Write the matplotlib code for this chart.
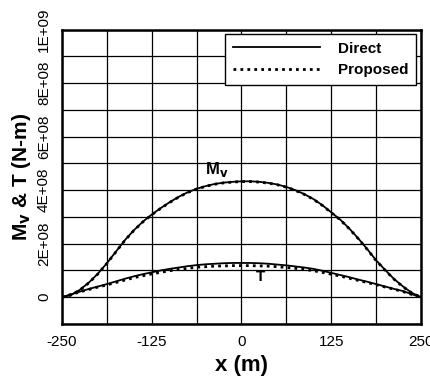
import matplotlib
matplotlib.use("Agg")
import matplotlib.pyplot as plt
import numpy as np

plt.rcParams['font.family'] = ['Liberation Sans', 'DejaVu Sans']

x = [-250, -237.5, -225, -212.5, -200, -187.5, -175, -162.5, -150, -137.5,
     -125, -112.5, -100, -87.5, -75, -62.5, -50, -37.5, -25, -12.5, 0,
     12.5, 25, 37.5, 50, 62.5, 75, 87.5, 100, 112.5, 125,
     137.5, 150, 162.5, 175, 187.5, 200, 212.5, 225, 237.5, 250]
mv_direct = [0, 0.08, 0.28, 0.55, 0.88, 1.27, 1.7, 2.13, 2.5, 2.82,
             3.09, 3.33, 3.55, 3.75, 3.92, 4.05, 4.15, 4.23, 4.28, 4.31, 4.33,
             4.33, 4.31, 4.27, 4.21, 4.12, 4.0, 3.85, 3.67, 3.44, 3.17,
             2.9, 2.57, 2.2, 1.8, 1.38, 1.02, 0.68, 0.4, 0.16, 0]
mv_proposed = [0, 0.08, 0.27, 0.54, 0.87, 1.26, 1.69, 2.12, 2.49, 2.81,
               3.08, 3.32, 3.54, 3.74, 3.91, 4.04, 4.14, 4.22, 4.27, 4.3, 4.32,
               4.32, 4.3, 4.26, 4.2, 4.11, 3.99, 3.84, 3.66, 3.43, 3.16,
               2.89, 2.56, 2.19, 1.79, 1.37, 1.01, 0.67, 0.39, 0.15, 0]
t_direct = [0, 0.11, 0.21, 0.31, 0.4, 0.49, 0.59, 0.69, 0.78, 0.86,
            0.93, 1.0, 1.06, 1.11, 1.16, 1.2, 1.23, 1.25, 1.27, 1.28, 1.28,
            1.28, 1.27, 1.25, 1.22, 1.19, 1.15, 1.11, 1.06, 0.99, 0.91,
            0.83, 0.75, 0.66, 0.58, 0.49, 0.4, 0.31, 0.23, 0.11, 0]
t_proposed = [0, 0.1, 0.2, 0.29, 0.38, 0.46, 0.55, 0.64, 0.73, 0.8,
              0.87, 0.93, 0.99, 1.04, 1.08, 1.12, 1.14, 1.16, 1.17, 1.18, 1.18,
              1.18, 1.17, 1.16, 1.14, 1.11, 1.08, 1.04, 0.99, 0.93, 0.86,
              0.79, 0.71, 0.63, 0.55, 0.47, 0.38, 0.3, 0.21, 0.1, 0]
scale = 1e8

xticks = [-250, -125, 0, 125, 250]
yticks = [0, 2e8, 4e8, 6e8, 8e8, 1e9]
yticklabels = ['0', '2E+08', '4E+08', '6E+08', '8E+08', '1E+09']

fig = plt.figure(figsize=(4.31, 3.76), dpi=100)
ax = fig.add_axes([62/431, 1-324/376, (421-62)/431, (324-29.5)/376])

xa = np.array(x)
ax.plot(xa, np.array(mv_direct)*scale, color='black', lw=1.3, label='Direct')
ax.plot(xa, np.array(mv_proposed)*scale, color='black', lw=2.0,
        linestyle=(0, (1, 1.5)), label='Proposed')
ax.plot(xa, np.array(t_direct)*scale, color='black', lw=1.3)
ax.plot(xa, np.array(t_proposed)*scale, color='black', lw=2.0,
        linestyle=(0, (1, 1.5)))

ax.set_xlim(-250, 250)
ax.set_ylim(-0.93e8, 1e9)
ax.set_xticks(np.arange(-250, 251, 62.5), minor=True)
ax.set_yticks(np.arange(-1e8, 1.01e9, 1e8), minor=True)
ax.set_xticks(xticks)
ax.set_xticklabels([str(v) for v in xticks], fontsize=11)
ax.set_yticks(yticks)
ax.set_yticklabels(yticklabels, fontsize=11, rotation=90, va='center')
ax.grid(True, which='both', color='black', lw=0.9)
ax.tick_params(which='both', length=0, pad=8)
for s in ax.spines.values():
    s.set_linewidth(1.8)

ax.set_xlabel('x (m)', fontsize=16, fontweight='bold', labelpad=4)
ax.set_ylabel('M$_\\mathbf{v}$ & T (N-m)', fontsize=15, fontweight='bold', labelpad=3)

ax.text(-35, 4.78e8, 'M$_\\mathbf{v}$', fontsize=12, fontweight='bold',
        ha='center', va='center')
ax.text(27, 0.75e8, 'T', fontsize=11, fontweight='bold', ha='center', va='center')

leg = ax.legend(loc='upper right', prop={'weight': 'bold', 'size': 11},
                frameon=True, fancybox=False, edgecolor='black', framealpha=1,
                handlelength=5.7, borderaxespad=0.3, borderpad=0.5,
                labelspacing=0.5, handletextpad=1.2)
leg.get_frame().set_linewidth(1.0)

fig.savefig('out.png', dpi=100)
